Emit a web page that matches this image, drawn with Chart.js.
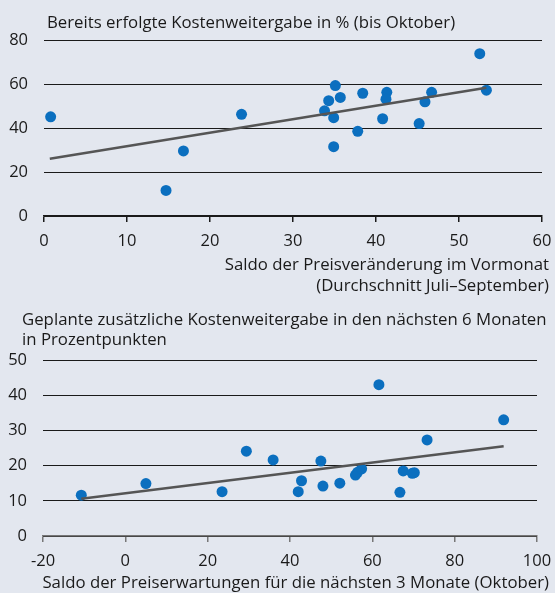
<!DOCTYPE html>
<html lang="de">
<head>
<meta charset="utf-8">
<script src="https://cdn.jsdelivr.net/npm/chart.js@4.4.1/dist/chart.umd.min.js"></script>
<style>
  html, body { margin: 0; padding: 0; background: #e3e7ef; }
  #wrap { position: relative; width: 555px; height: 593px; overflow: hidden; font-family: "Open Sans", sans-serif; color: #1a1a1a; }
  .box { position: absolute; left: 0; width: 555px; }
  .txt { position: absolute; font-size: 16.8px; line-height: 21px; white-space: nowrap; }
  .right { text-align: right; }
</style>
</head>
<body>
<div id="wrap">
  <div class="box" style="top:0;height:300px"><canvas id="top"></canvas></div>
  <div class="box" style="top:300px;height:293px"><canvas id="bottom"></canvas></div>
  <div class="txt" style="left:47px;top:11px">Bereits erfolgte Kostenweitergabe in % (bis Oktober)</div>
  <div class="txt right" style="right:6px;top:253px">Saldo der Preisveränderung im Vormonat<br>(Durchschnitt Juli–September)</div>
  <div class="txt" style="left:22px;top:309px;line-height:20px">Geplante zusätzliche Kostenweitergabe in den nächsten 6 Monaten<br>in Prozentpunkten</div>
  <div class="txt right" style="right:6px;top:571px">Saldo der Preiserwartungen für die nächsten 3 Monate (Oktober)</div>
</div>
<script>
// oben: Preisveränderung Vormonat vs. bereits erfolgte Weitergabe
const vormonatX = [0.8, 14.7, 16.8, 23.8, 33.8, 34.3, 35.1, 34.9, 34.9, 35.7, 37.8, 38.4, 40.8, 41.3, 41.2, 45.2, 45.9, 46.7, 52.5, 53.3];
const erfolgtY = [45.1, 11.6, 29.6, 46.2, 47.8, 52.4, 59.3, 44.7, 31.5, 53.9, 38.5, 55.8, 44.2, 56.2, 53.1, 42.0, 51.9, 56.2, 73.8, 57.2];
const trendObenX = [0.7, 53.3];
const trendObenY = [26.0, 58.3];

// unten: Preiserwartungen vs. geplante Weitergabe
const erwartungX = [-10.7, 5.0, 23.5, 29.4, 35.9, 42.0, 42.8, 47.5, 48.0, 52.1, 55.9, 56.4, 57.4, 61.6, 66.7, 67.5, 69.7, 70.2, 73.3, 91.9];
const geplantY = [11.6, 14.9, 12.6, 24.1, 21.6, 12.6, 15.7, 21.3, 14.2, 15.0, 17.3, 18.1, 19.1, 43.0, 12.4, 18.5, 17.8, 18.0, 27.3, 33.0];
const trendUntenX = [-10.7, 91.9];
const trendUntenY = [10.6, 25.5];

const ticksOben = { x: [0, 60, 10], y: [0, 80, 20] };
const ticksUnten = { x: [-20, 100, 20], y: [0, 50, 10] };

const blau = '#0b6fbf';
const grau = '#555555';
const schrift = { family: '"Open Sans", sans-serif', size: 16.5 };

function toPoints(xs, ys) {
    return xs.map((x, i) => ({ x: x, y: ys[i] }));
}

function makeChart(id, xs, ys, tx, ty, ticks, layout, axisColor, yWidth) {
    const ctx = document.getElementById(id).getContext('2d');
    return new Chart(ctx, {
        type: 'scatter',
        data: {
            datasets: [{
                data: toPoints(xs, ys),
                backgroundColor: blau,
                borderWidth: 0,
                pointRadius: 5.5,
                order: 2
            }, {
                type: 'line',
                data: toPoints(tx, ty),
                borderColor: grau,
                borderWidth: 2.5,
                pointRadius: 0,
                fill: false,
                order: 1
            }]
        },
        options: {
            responsive: true,
            maintainAspectRatio: false,
            animation: false,
            layout: { padding: layout },
            plugins: { legend: { display: false }, tooltip: { enabled: false }, title: { display: false } },
            scales: {
                x: {
                    type: 'linear',
                    min: ticks.x[0], max: ticks.x[1],
                    // Achse fix, Label-Überhang ignorieren
                    afterFit: s => { s.height = 30; s.paddingLeft = 0; s.paddingRight = 0; },
                    afterBuildTicks: s => {
                        s.ticks = [];
                        for (let v = ticks.x[0]; v <= ticks.x[1]; v += ticks.x[2]) s.ticks.push({ value: v });
                    },
                    grid: { drawOnChartArea: false, drawTicks: true, tickLength: 6, color: axisColor, lineWidth: 1.5 },
                    border: { display: true, color: axisColor, width: 1.5 },
                    ticks: { color: '#1a1a1a', font: schrift, padding: 9, maxRotation: 0 }
                },
                y: {
                    min: ticks.y[0], max: ticks.y[1],
                    afterFit: s => { s.width = yWidth; },
                    afterBuildTicks: s => {
                        s.ticks = [];
                        for (let v = ticks.y[0]; v <= ticks.y[1]; v += ticks.y[2]) s.ticks.push({ value: v });
                    },
                    grid: { drawTicks: false, color: '#1a1a1a', lineWidth: 1 },
                    border: { display: false },
                    ticks: { color: '#1a1a1a', font: schrift, padding: 16 }
                }
            }
        }
    });
}

document.addEventListener("DOMContentLoaded", function() {
    makeChart('top', vormonatX, erfolgtY, trendObenX, trendObenY, ticksOben,
        { top: 40, left: 0, right: 13, bottom: 54 }, '#1a1a1a', 44);
    makeChart('bottom', erwartungX, geplantY, trendUntenX, trendUntenY, ticksUnten,
        { top: 60, left: 0, right: 18, bottom: 27 }, '#777777', 43);
});
</script>
</body>
</html>
